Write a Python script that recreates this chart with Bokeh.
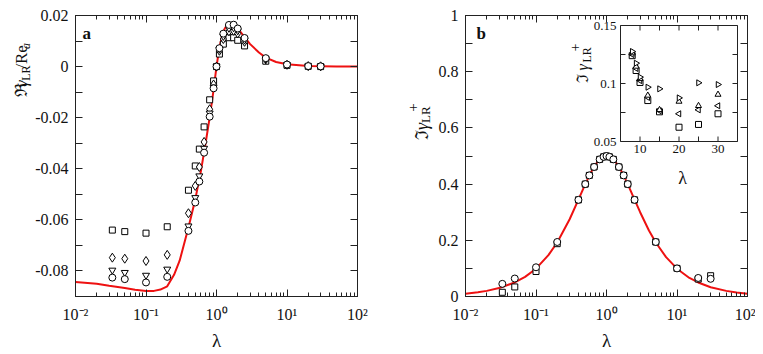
import math
from bokeh.plotting import figure
from bokeh.models import FixedTicker, LogAxis, LinearAxis, Label, Range1d, LinearScale
from bokeh.layouts import row
from bokeh.embed import file_html
from bokeh.resources import INLINE
from bokeh.core.properties import value

FONT = "Liberation Serif"
INK = "#222222"
TXT = "#111111"
RED = "#ee1111"

# ---------------- data ----------------
lam = [0.0333, 0.05, 0.1, 0.2, 0.4, 0.5, 0.571, 0.667, 0.8, 0.909, 1.0,
       1.1, 1.25, 1.5, 1.75, 2.0, 2.5, 5.0, 10.0, 20.0, 30.0]

# panel a : Re gamma_LR / Re_a
re_circ = [-0.0826, -0.0832, -0.0845, -0.0823, -0.0643, -0.0532, -0.0450, -0.0337, -0.0196, -0.0085, 0.0,
           0.0072, 0.0129, 0.0163, 0.0164, 0.0149, 0.0112, 0.0033, 0.0008, 0.0002, 0.0001]
re_itri = [-0.0797, -0.0806, -0.0817, -0.0793, -0.0624, -0.0513, -0.0428, -0.0320, -0.0182, -0.0080, 0.0,
           0.0068, 0.0118, 0.0150, 0.0152, 0.0140, 0.0104, 0.0030, 0.0007, 0.0002, 0.0001]
re_diam = [-0.0748, -0.0752, -0.0761, -0.0737, -0.0574, -0.0467, -0.0393, -0.0295, -0.0167, -0.0070, 0.0,
           0.0062, 0.0108, 0.0138, 0.0140, 0.0130, 0.0097, 0.0028, 0.0007, 0.0002, 0.0001]
re_sq = [-0.0640, -0.0646, -0.0652, -0.0627, -0.0484, -0.0389, -0.0323, -0.0236, -0.0130, -0.0056, 0.0,
         0.0049, 0.0088, 0.0113, 0.0113, 0.0103, 0.0081, 0.0021, 0.0005, 0.0001, 0.0]

curve_a_lam = [0.01, 0.02, 0.03, 0.05, 0.07, 0.1, 0.13, 0.16, 0.2, 0.25, 0.3, 0.4, 0.5, 0.6, 0.7,
               0.8, 0.9, 1.0, 1.1, 1.2, 1.3, 1.4, 1.5, 1.6, 1.7, 1.8, 2.0, 2.5, 3.0, 4.0, 5.0,
               7.0, 10.0, 20.0, 50.0, 100.0]
curve_a_val = [-0.0843, -0.0850, -0.0858, -0.0867, -0.0874, -0.0878, -0.0878, -0.0873, -0.0860,
               -0.0815, -0.0760, -0.0630, -0.0520, -0.0410, -0.0300, -0.0200, -0.0100, 0.0,
               0.0075, 0.0120, 0.0147, 0.0162, 0.0170, 0.0171, 0.0168, 0.0163, 0.0150, 0.0115,
               0.0088, 0.0055, 0.0035, 0.0018, 0.0009, 0.0002, 0.0, 0.0]

# panel b : Im gamma+_LR
im_circ = [0.045, 0.064, 0.104, 0.194, 0.344, 0.400, 0.431, 0.461, 0.488, 0.497, 0.500,
           0.497, 0.488, 0.461, 0.431, 0.400, 0.344, 0.194, 0.100, 0.066, 0.063]
im_sq = [0.015, 0.034, 0.089, 0.188, 0.344, 0.400, 0.431, 0.461, 0.488, 0.497, 0.500,
         0.497, 0.488, 0.461, 0.431, 0.400, 0.344, 0.194, 0.100, 0.062, 0.074]

curve_b_lam = [0.01, 0.015, 0.02, 0.03, 0.05, 0.07, 0.1, 0.15, 0.2, 0.3, 0.4, 0.5, 0.6, 0.7, 0.8,
               0.9, 1.0, 1.1, 1.25, 1.4, 1.6, 1.8, 2.0, 2.5, 3.0, 4.0, 5.0, 7.0, 10.0, 15.0,
               20.0, 30.0, 50.0, 70.0, 100.0]
curve_b_val = [0.010, 0.015, 0.020, 0.030, 0.050, 0.070, 0.099, 0.147, 0.192, 0.275, 0.345, 0.400,
               0.441, 0.470, 0.488, 0.497, 0.500, 0.498, 0.488, 0.473, 0.449, 0.425, 0.400, 0.345,
               0.300, 0.235, 0.192, 0.140, 0.099, 0.066, 0.050, 0.033, 0.020, 0.014, 0.010]

# inset
lam_in = [8, 9, 10, 12, 15, 20, 25, 30]
in_rtri = [0.1276, 0.1175, 0.1055, 0.0968, 0.0954, 0.0876, 0.1006, 0.0991]
in_utri = [0.1262, 0.1147, 0.1040, 0.0897, 0.0773, 0.0845, 0.0808, 0.0905]
in_ltri = [0.1250, 0.1130, 0.1025, 0.0880, 0.0765, 0.0739, 0.0773, 0.0808]
in_sq = [0.1240, 0.1112, 0.1009, 0.0853, 0.0756, 0.0623, 0.0647, 0.0739]

x_ticks = [0.01, 0.1, 1.0, 10.0, 100.0]
x_tick_labels = ["10\u207b\u00b2", "10\u207b\u00b9", "10\u2070", "10\u00b9", "10\u00b2"]
x_minor = [k * 10.0 ** e for e in range(-2, 2) for k in range(2, 10)]

ya_ticks = [-0.08, -0.06, -0.04, -0.02, 0.0, 0.02]
ya_labels = ["-0.08", "-0.06", "-0.04", "-0.02", "0", "0.02"]
ya_minor = [-0.09, -0.07, -0.05, -0.03, -0.01, 0.01]

yb_ticks = [0.0, 0.2, 0.4, 0.6, 0.8, 1.0]
yb_labels = ["0", "0.2", "0.4", "0.6", "0.8", "1"]
yb_minor = [0.1, 0.3, 0.5, 0.7, 0.9]

xi_lim = (5, 35)
yi_lim = (0.05, 0.15)
xi_ticks = [10, 20, 30]
xi_labels = ["10", "20", "30"]
xi_minor = [15, 25]
yi_ticks = [0.05, 0.1, 0.15]
yi_labels = ["0.05", "0.1", "0.15"]
yi_minor = [0.075, 0.125]


def style_axis(ax, ticks, minor, labels=None, fs="16px", major_in=7, minor_in=4, standoff=8, hide=False):
    ax.ticker = FixedTicker(ticks=ticks, minor_ticks=minor)
    ax.major_tick_in = major_in
    ax.major_tick_out = 0
    ax.minor_tick_in = minor_in
    ax.minor_tick_out = 0
    ax.axis_line_color = INK
    ax.major_tick_line_color = INK
    ax.minor_tick_line_color = INK
    ax.major_label_text_font = FONT
    ax.major_label_text_color = TXT
    if hide:
        ax.major_label_text_font_size = "1px"
        ax.major_label_text_alpha = 0
        ax.major_label_standoff = 0
    else:
        ax.major_label_text_font_size = fs
        ax.major_label_standoff = standoff
        if labels is not None:
            ax.major_label_overrides = {float(t): s for t, s in zip(ticks, labels)}


FW, FH = 282, 281
H = 352


def make_main(yr, yt, ylabels, yminor, mb_left, mb_right):
    p = figure(x_axis_type="log", x_range=Range1d(0.01, 100), y_range=Range1d(*yr),
               frame_width=FW, frame_height=FH, min_border_left=mb_left, min_border_right=mb_right,
               min_border_top=15, min_border_bottom=H - 15 - FH, output_backend="svg", toolbar_location=None)
    p.xgrid.visible = False
    p.ygrid.visible = False
    p.outline_line_color = INK
    bx = p.xaxis[0]
    style_axis(bx, x_ticks, x_minor, x_tick_labels, fs="16px", major_in=7, minor_in=4, standoff=9)
    bx.axis_label = "\u03bb"
    bx.axis_label_text_font = FONT
    bx.axis_label_text_font_size = "19px"
    bx.axis_label_text_font_style = "normal"
    bx.axis_label_text_color = TXT
    bx.axis_label_standoff = 4
    style_axis(p.yaxis[0], yt, yminor, ylabels, fs="16px", major_in=7, minor_in=7, standoff=7)
    top = LogAxis()
    style_axis(top, x_ticks, x_minor, hide=True, major_in=7, minor_in=4)
    p.add_layout(top, "above")
    right = LinearAxis()
    style_axis(right, yt, yminor, hide=True, major_in=7, minor_in=7)
    p.add_layout(right, "right")
    return p


def make_strip(w):
    s = figure(width=w, height=H, x_range=Range1d(0, w), y_range=Range1d(H, 0), min_border=0,
               x_axis_location=None, y_axis_location=None, output_backend="svg", toolbar_location=None)
    s.grid.visible = False
    s.outline_line_color = None
    s.background_fill_color = "white"
    s.border_fill_color = "white"
    return s


def add_text(p, text, x, y, size, style="normal", angle=0.0, align="left", baseline="alphabetic",
             units="screen"):
    p.add_layout(Label(x=x, y=y, x_units=units, y_units=units, text=text, angle=angle,
                       text_font=FONT, text_font_size=f"{size}px", text_font_style=style,
                       text_color=TXT, text_align=align, text_baseline=baseline))


def vlabel(p, pieces, bx, y0, units="screen", direction=1):
    """pieces: (text, size, shift, style, advance); rotated 90deg reading upward."""
    y = y0
    for text, size, shift, style, adv in pieces:
        add_text(p, text, bx + shift, y, size, style, angle=math.pi / 2, units=units)
        y += direction * adv


mk = dict(fill_color="white", line_color="black", line_width=1)

# ---------------- panel a ----------------
sa = make_strip(32)
vlabel(sa, [("\u211c", 17, 0, "normal", 13), ("\u03b3", 17, 0, "italic", 8),
            ("LR", 12, 4, "normal", 15), ("/", 17, 0, "normal", 6),
            ("Re", 17, 0, "normal", 19), ("a", 12, 4, "italic", 6)], 21, 103, units="data", direction=-1)

pa = make_main((-0.09, 0.02), ya_ticks, ya_labels, ya_minor, 43, 24)
pa.line(curve_a_lam, curve_a_val, line_color=RED, line_width=2)
pa.scatter(lam, re_sq, marker="square", size=6, **mk)
pa.scatter(lam, re_diam, marker="diamond", size=9, **mk)
pa.scatter(lam, re_itri, marker="inverted_triangle", size=7, **mk)
pa.scatter(lam, re_circ, marker="circle", size=7, **mk)
add_text(pa, "a", 7, 263, 17, "bold")

# ---------------- panel b ----------------
sb = make_strip(54)
vlabel(sb, [("\u2111", 18, 0, "normal", 13), ("\u03b3", 18, 0, "italic", 9),
            ("LR", 13, 4, "normal", 15)], 40, 157, units="data", direction=-1)
add_text(sb, "+", 40 - 9, 157 - 36, 15, angle=math.pi / 2, units="data")

pb = make_main((0.0, 1.0), yb_ticks, yb_labels, yb_minor, 30, 8)
pb.line(curve_b_lam, curve_b_val, line_color=RED, line_width=2)
pb.scatter(lam, im_sq, marker="square", size=6, **mk)
pb.scatter(lam, im_circ, marker="circle", size=7, **mk)
add_text(pb, "b", 11, 263, 17, "bold")

# ---------------- inset (own linear coordinate system inside panel b) ----------------
# inset frame placed at pixels [155, 272] x [10, 126] (from top) of the 282 x 281 frame
IL, IR, IT, IB = 155, 272, 10, 126
sx = (xi_lim[1] - xi_lim[0]) / (IR - IL)
sy = (yi_lim[1] - yi_lim[0]) / (IB - IT)
pb.extra_x_ranges = {"ix": Range1d(xi_lim[0] - IL * sx, xi_lim[1] + (FW - IR) * sx)}
pb.extra_y_ranges = {"iy": Range1d(yi_lim[0] - (FH - IB) * sy, yi_lim[1] + IT * sy)}
pb.extra_x_scales = {"ix": LinearScale()}
pb.extra_y_scales = {"iy": LinearScale()}
ins = dict(x_range_name="ix", y_range_name="iy")

pb.quad(left=[xi_lim[0]], right=[xi_lim[1]], bottom=[yi_lim[0]], top=[yi_lim[1]],
        fill_color="white", line_color=INK, line_width=1, **ins)
tl = 5
xt_all = xi_ticks + xi_minor
yt_all = yi_ticks + yi_minor
pb.segment(x0=xt_all, x1=xt_all, y0=[yi_lim[0]] * len(xt_all), y1=[yi_lim[0] + tl * sy] * len(xt_all),
           line_color=INK, **ins)
pb.segment(x0=xt_all, x1=xt_all, y0=[yi_lim[1]] * len(xt_all), y1=[yi_lim[1] - tl * sy] * len(xt_all),
           line_color=INK, **ins)
pb.segment(x0=[xi_lim[0]] * len(yt_all), x1=[xi_lim[0] + tl * sx] * len(yt_all), y0=yt_all, y1=yt_all,
           line_color=INK, **ins)
pb.segment(x0=[xi_lim[1]] * len(yt_all), x1=[xi_lim[1] - tl * sx] * len(yt_all), y0=yt_all, y1=yt_all,
           line_color=INK, **ins)
pb.text(x=xi_ticks, y=[yi_lim[0]] * 3, text=xi_labels, text_font=value(FONT), text_font_size="13px",
        text_align="center", text_baseline="top", y_offset=3, text_color=TXT, **ins)
pb.text(x=[xi_lim[0]] * 3, y=yi_ticks, text=yi_labels, text_font=value(FONT), text_font_size="13px",
        text_align="right", text_baseline="middle", x_offset=-4, text_color=TXT, **ins)

pb.scatter(lam_in, in_sq, marker="square", size=6, **mk, **ins)
pb.scatter(lam_in, in_ltri, marker="triangle", angle=math.pi / 2, size=6, **mk, **ins)
pb.scatter(lam_in, in_utri, marker="triangle", size=6, **mk, **ins)
pb.scatter(lam_in, in_rtri, marker="triangle", angle=-math.pi / 2, size=6, **mk, **ins)

add_text(pb, "\u03bb", 217, 119, 18, align="center", baseline="middle")
vlabel(pb, [("\u2111", 16, 0, "normal", 12), ("\u03b3", 16, 0, "italic", 8),
            ("LR", 12, 4, "normal", 14)], 117, 214)
add_text(pb, "+", 117 - 8, 214 + 31, 14, angle=math.pi / 2)

layout = row(sa, pa, sb, pb)
open("out.html", "w").write(file_html(layout, INLINE))
